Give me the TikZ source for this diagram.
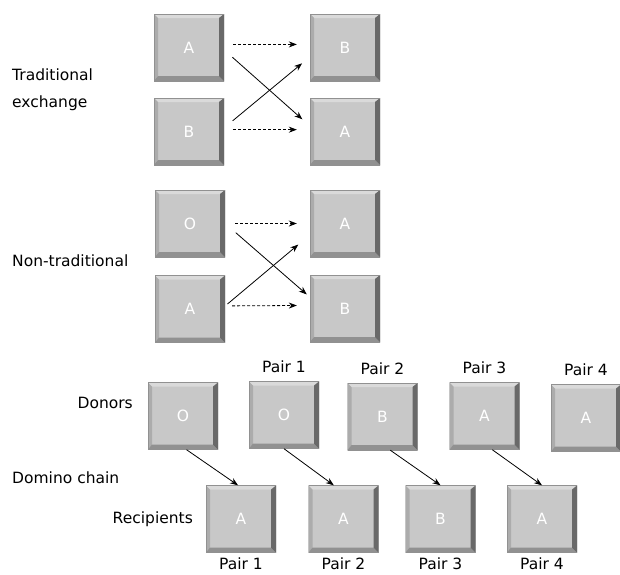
\documentclass[tikz,border=0pt]{standalone}
\usepackage{fontspec}
\setmainfont{DejaVu Sans}
\usetikzlibrary{arrows.meta,positioning}

\definecolor{tilegray}{RGB}{200,200,200}
\definecolor{tilelight}{RGB}{218,218,218}
\definecolor{tileside}{RGB}{172,172,172}
\definecolor{tileshade}{RGB}{145,145,145}
\definecolor{tiledark}{RGB}{105,105,105}

\begin{document}
\begin{tikzpicture}[
        x=1pt, y=-1pt,
        every node/.style={font=\fontsize{15.5}{18}\selectfont, inner sep=0pt},
        tile/.style={minimum width=70pt, minimum height=67pt, fill=tilegray, text=white,
          path picture={
            \coordinate (pp-sw) at (path picture bounding box.south west);
            \coordinate (pp-ne) at (path picture bounding box.north east);
            \coordinate (pp-nw) at (pp-sw |- pp-ne);
            \coordinate (pp-se) at (pp-ne |- pp-sw);
            \fill[tilelight] (pp-nw) -- (pp-ne) -- ([shift={(-5pt,-4pt)}]pp-ne) -- ([shift={(4pt,-4pt)}]pp-nw) -- cycle;
            \fill[tileside] (pp-nw) -- (pp-sw) -- ([shift={(4pt,5pt)}]pp-sw) -- ([shift={(4pt,-4pt)}]pp-nw) -- cycle;
            \fill[tileshade] (pp-sw) -- (pp-se) -- ([shift={(-5pt,5pt)}]pp-se) -- ([shift={(4pt,5pt)}]pp-sw) -- cycle;
            \fill[tiledark] (pp-ne) -- (pp-se) -- ([shift={(-5pt,5pt)}]pp-se) -- ([shift={(-5pt,-4pt)}]pp-ne) -- cycle;
            \draw[tileshade, line width=1pt] (pp-sw) rectangle (pp-ne);
          }},
        xarrow/.style={-{Stealth[length=8pt,width=6pt]}, line width=0.8pt},
        dasharrow/.style={xarrow, dash pattern=on 3pt off 2pt},
        pairlabel/.style={text=black}
        ]
        \useasboundingbox (0,0) rectangle (620,574);

        % traditional exchange
        \node[anchor=west, align=left, font=\fontsize{15.5}{27}\selectfont] (trad) at (12,89.5) {Traditional\\exchange};
        \node[tile] (tA) at (189,47.5) {A};
        \node[tile] (tB) at (189,131.5) {B};
        \node[tile] (rB) at (345,47.5) {B};
        \node[tile] (rA) at (345,131.5) {A};
        \draw[dasharrow, shorten <=9pt, shorten >=13pt] (tA.5) -- (rB.175);
        \draw[dasharrow, shorten <=9pt, shorten >=13pt] (tB.3) -- (rA.177);
        \draw[xarrow, shorten <=11pt, shorten >=10pt] (tA.-4) -- (rA.171);
        \draw[xarrow, shorten <=11pt, shorten >=10pt] (tB.6) -- (rB.195);

        % non-traditional
        \node[anchor=west] (nontrad) at (12,261) {Non-traditional};
        \node[tile] (nO) at (190,223.5) {O};
        \node[tile] (nA) at (190,309) {A};
        \node[tile] (nA2) at (345,223.5) {A};
        \node[tile] (nB) at (345,308.5) {B};
        \draw[dasharrow, shorten <=10pt, shorten >=13pt] (nO.east) -- (nA2.west);
        \draw[dasharrow, shorten <=7pt, shorten >=13pt] (nA.5) -- (nB.175);
        \draw[xarrow, shorten <=14pt, shorten >=4pt] (nO.0) -- (nB.162);
        \draw[xarrow, shorten <=3pt, shorten >=15pt] (nA.5) -- (nA2.198);

        % domino chain
        \node[anchor=east] (donors) at (133,403) {Donors};
        \node[anchor=west] (domino) at (12,478) {Domino chain};
        \node[anchor=east] (recip) at (193,519.5) {Recipients};

        \node[tile] (d0) at (183,416) {O};
        \node[tile] (d1) at (284,415) {O};
        \node[tile] (d2) at (382.5,416.5) {B};
        \node[tile] (d3) at (484.5,416) {A};
        \node[tile] (d4) at (586,418) {A};

        \node[tile] (r1) at (241,519) {A};
        \node[tile] (r2) at (343.5,519) {A};
        \node[tile] (r3) at (440.5,519) {B};
        \node[tile] (r4) at (542,519) {A};

        \foreach \i in {1,...,4} {
          \node[pairlabel, above=8pt of d\i] (dp\i) {Pair \i};
          \node[pairlabel, below=5pt of r\i] (rp\i) {Pair \i};
        }

        \draw[xarrow] (d0.-84) -- (r1.95);
        \draw[xarrow] (d1.south) -- (r2.106);
        \draw[xarrow] (d2.-77) -- (r3.north);
        \draw[xarrow] (d3.-77) -- (r4.north);
    \end{tikzpicture}
\end{document}
